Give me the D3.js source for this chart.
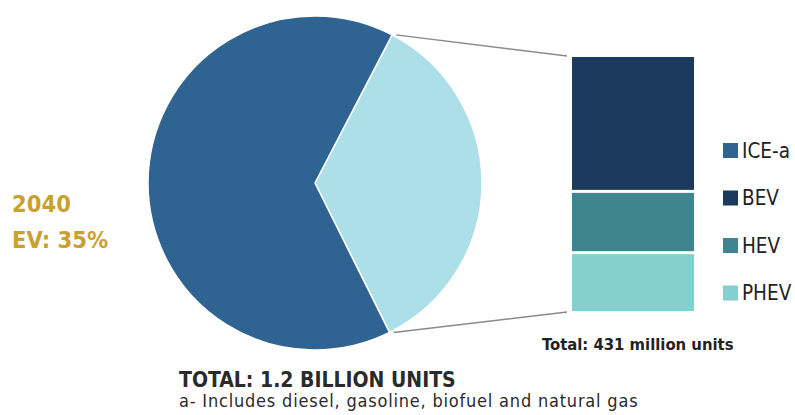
<!DOCTYPE html>
<html>
<head>
<meta charset="utf-8">
<script src="https://cdn.jsdelivr.net/npm/d3@7"></script>
<style>
  body { margin: 0; background: #fff; }
  text { font-family: "DejaVu Sans Condensed", "DejaVu Sans", sans-serif; }
</style>
</head>
<body>
<script>
// pie data: share of 2040 sales
var pieNames = ["EV", "ICE-a"];
var pieValues = [35, 65];

// ev breakdown, million units
var evNames = ["BEV", "HEV", "PHEV"];
var evValues = [228, 104, 99];

// legend
var legendNames = ["ICE-a", "BEV", "HEV", "PHEV"];

var width = 795,
  height = 415;

var colors = {
  "ICE-a": "#2e6392",
  "EV": "#addfe9",
  "BEV": "#1b3a5c",
  "HEV": "#3e8590",
  "PHEV": "#84d0cf"
};

var svg = d3.select("body")
  .append("svg")
  .attr("width", width)
  .attr("height", height);

// pie placement
var cx = 315,
  cy = 183,
  radius = 167;

var pie = d3.pie()
  .sort(null)
  .startAngle(0.48)
  .endAngle(0.48 + 2 * Math.PI)
  .value(function(d) {
    return d.value;
  });

var arc = d3.arc()
  .innerRadius(0)
  .outerRadius(radius);

var pieData = pieNames.map(function(n, i) {
  return { name: n, value: pieValues[i] };
});

var arcs = pie(pieData);

var pieG = svg.append("g")
  .attr("transform", "translate(" + cx + "," + cy + ")");

pieG.selectAll(".slice")
  .data(arcs)
  .enter().append("path")
  .attr("class", "slice")
  .attr("d", arc)
  .attr("fill", function(d) {
    return colors[d.data.name];
  })
  .attr("stroke", "#fff")
  .attr("stroke-width", 1.5);

// stacked bar for the ev slice
var barX = 572,
  barW = 122;

var total = d3.sum(evValues);
var y = d3.scaleLinear()
  .domain([0, total])
  .range([57, 311]);

var stack = [];
var acc = 0;
evNames.forEach(function(n, i) {
  stack.push({ name: n, y0: acc, y1: acc + evValues[i] });
  acc += evValues[i];
});

svg.selectAll(".seg")
  .data(stack)
  .enter().append("rect")
  .attr("class", "seg")
  .attr("x", barX)
  .attr("width", barW)
  .attr("y", function(d, i) {
    return y(d.y0) + (i > 0 ? 1.5 : 0);
  })
  .attr("height", function(d, i) {
    var h = y(d.y1) - y(d.y0);
    if (i > 0) h -= 1.5;
    if (i < stack.length - 1) h -= 1.5;
    return h;
  })
  .attr("fill", function(d) {
    return colors[d.name];
  });

// connector lines from the ev slice to the bar
var ev = arcs[0];
var p0 = [cx + radius * Math.sin(ev.startAngle), cy - radius * Math.cos(ev.startAngle)];
var p1 = [cx + radius * Math.sin(ev.endAngle), cy - radius * Math.cos(ev.endAngle)];

svg.append("line")
  .attr("x1", p0[0] + 4).attr("y1", p0[1])
  .attr("x2", barX - 5).attr("y2", y(0) - 1)
  .attr("stroke", "#8a8a8a")
  .attr("stroke-width", 1.5);

svg.append("line")
  .attr("x1", p1[0] + 4).attr("y1", p1[1])
  .attr("x2", barX - 5).attr("y2", y(total) + 1)
  .attr("stroke", "#8a8a8a")
  .attr("stroke-width", 1.5);

// legend
var legend = svg.selectAll(".legend")
  .data(legendNames)
  .enter().append("g")
  .attr("class", "legend")
  .attr("transform", function(d, i) {
    return "translate(723," + (143 + i * 47.5) + ")";
  });

legend.append("rect")
  .attr("width", 15)
  .attr("height", 15)
  .attr("fill", function(d) {
    return colors[d];
  });

legend.append("text")
  .attr("x", 19)
  .attr("y", 14.5)
  .attr("font-size", 20.5)
  .attr("fill", "#222")
  .text(function(d) {
    return d;
  });

// texts
svg.append("text")
  .attr("x", 542)
  .attr("y", 350)
  .attr("font-size", 16.5)
  .attr("font-weight", "bold")
  .attr("fill", "#222")
  .text("Total: 431 million units");

svg.append("text")
  .attr("x", 12)
  .attr("y", 212)
  .attr("font-size", 23.5)
  .attr("font-weight", "bold")
  .attr("fill", "#c9a12f")
  .text("2040");

svg.append("text")
  .attr("x", 12)
  .attr("y", 248)
  .attr("font-size", 23.5)
  .attr("font-weight", "bold")
  .attr("fill", "#c9a12f")
  .text("EV: 35%");

svg.append("text")
  .attr("x", 179)
  .attr("y", 387)
  .attr("font-size", 21)
  .attr("font-weight", "bold")
  .attr("fill", "#2a2a2a")
  .text("TOTAL: 1.2 BILLION UNITS");

svg.append("text")
  .attr("x", 179)
  .attr("y", 407)
  .attr("font-size", 18)
  .attr("letter-spacing", 0.8)
  .attr("font-family", "DejaVu Sans")
  .attr("fill", "#2a2a2a")
  .text("a- Includes diesel, gasoline, biofuel and natural gas");
</script>
</body>
</html>
